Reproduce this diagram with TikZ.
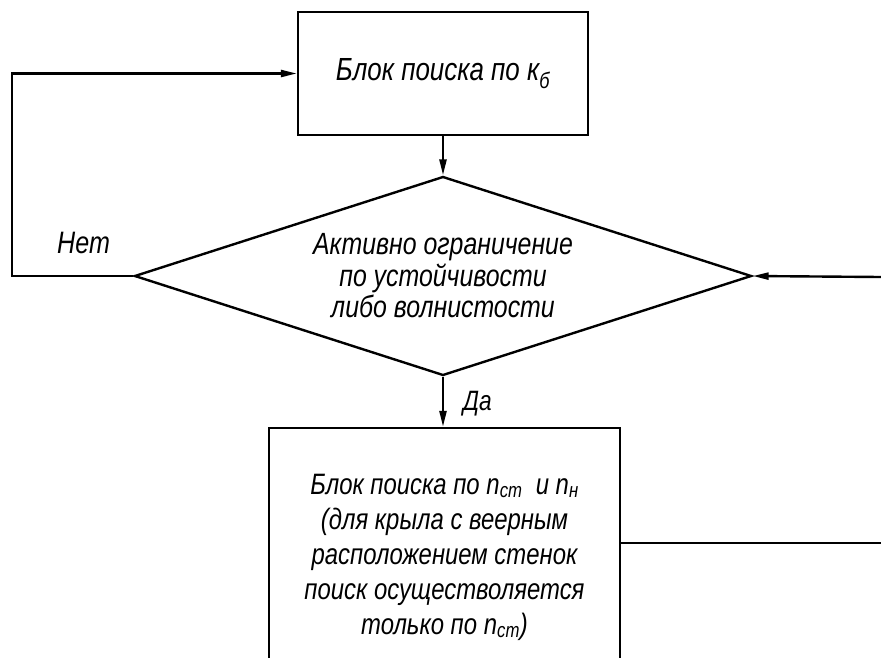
\documentclass[tikz,border=0pt]{standalone}
\usepackage{fontspec}
\usetikzlibrary{shapes.geometric,arrows.meta}
\newfontfamily\gostfont{Liberation Sans}[FakeStretch=0.81]
\tikzset{
	block/.style={draw, line width=2.4pt, inner sep=0pt, align=center},
	check/.style={diamond, draw, line width=2.4pt, inner sep=0pt, aspect=3.1, align=center,
		minimum width=617pt, minimum height=199pt},
	answer/.style={inner sep=0pt, font=\gostfont\itshape\fontsize{31}{31}\selectfont},
	link/.style={line width=2.4pt, -{Triangle[length=16pt,width=7pt]}}
}
\begin{document}
\begin{tikzpicture}[x=1pt, y=-1pt]
	\useasboundingbox (0, 0) rectangle (881, 657);
	\clip (0, 0) rectangle (881, 657);

	\node[block, minimum width=290pt, minimum height=123pt,
		font=\gostfont\itshape\fontsize{32}{32}\selectfont] (search) at (443, 73.5)
		{Блок поиска по к\textsubscript{б}};
	\node[check, font=\gostfont\itshape\fontsize{30.7}{31.5}\selectfont] (cond) at (443, 276)
		{Активно ограничение\\по устойчивости\\либо волнистости};
	\node[block, minimum width=351pt, minimum height=258pt,
		font=\gostfont\itshape\fontsize{29.5}{35}\selectfont] (nsearch) at (444.5, 557)
		{Блок поиска по n\textsubscript{ст}\ \ и n\textsubscript{н}\\
		(для крыла с веерным\\расположением стенок\\поиск осуществоляется\\только по n\textsubscript{ст})};

	\coordinate (back) at (12, 276);
	\coordinate (inR) at (881, 277);
	\coordinate (outR) at (881, 543);

	\node[answer, anchor=base west] (no) at (57, 253) {Нет};
	\node[answer, anchor=base west, font=\gostfont\itshape\fontsize{28}{28}\selectfont] (yes) at (463, 410) {Да};

	\draw[link] (search) -- (cond);
	\draw[link] (cond.south) -- (cond.south |- nsearch.north);
	\draw[link] (cond.west) -- (back) |- (search.west);
	\draw[link] (inR) -- (cond.east);
	\draw[line width=2.4pt] (nsearch.east |- outR) -- (outR);
\end{tikzpicture}
\end{document}
